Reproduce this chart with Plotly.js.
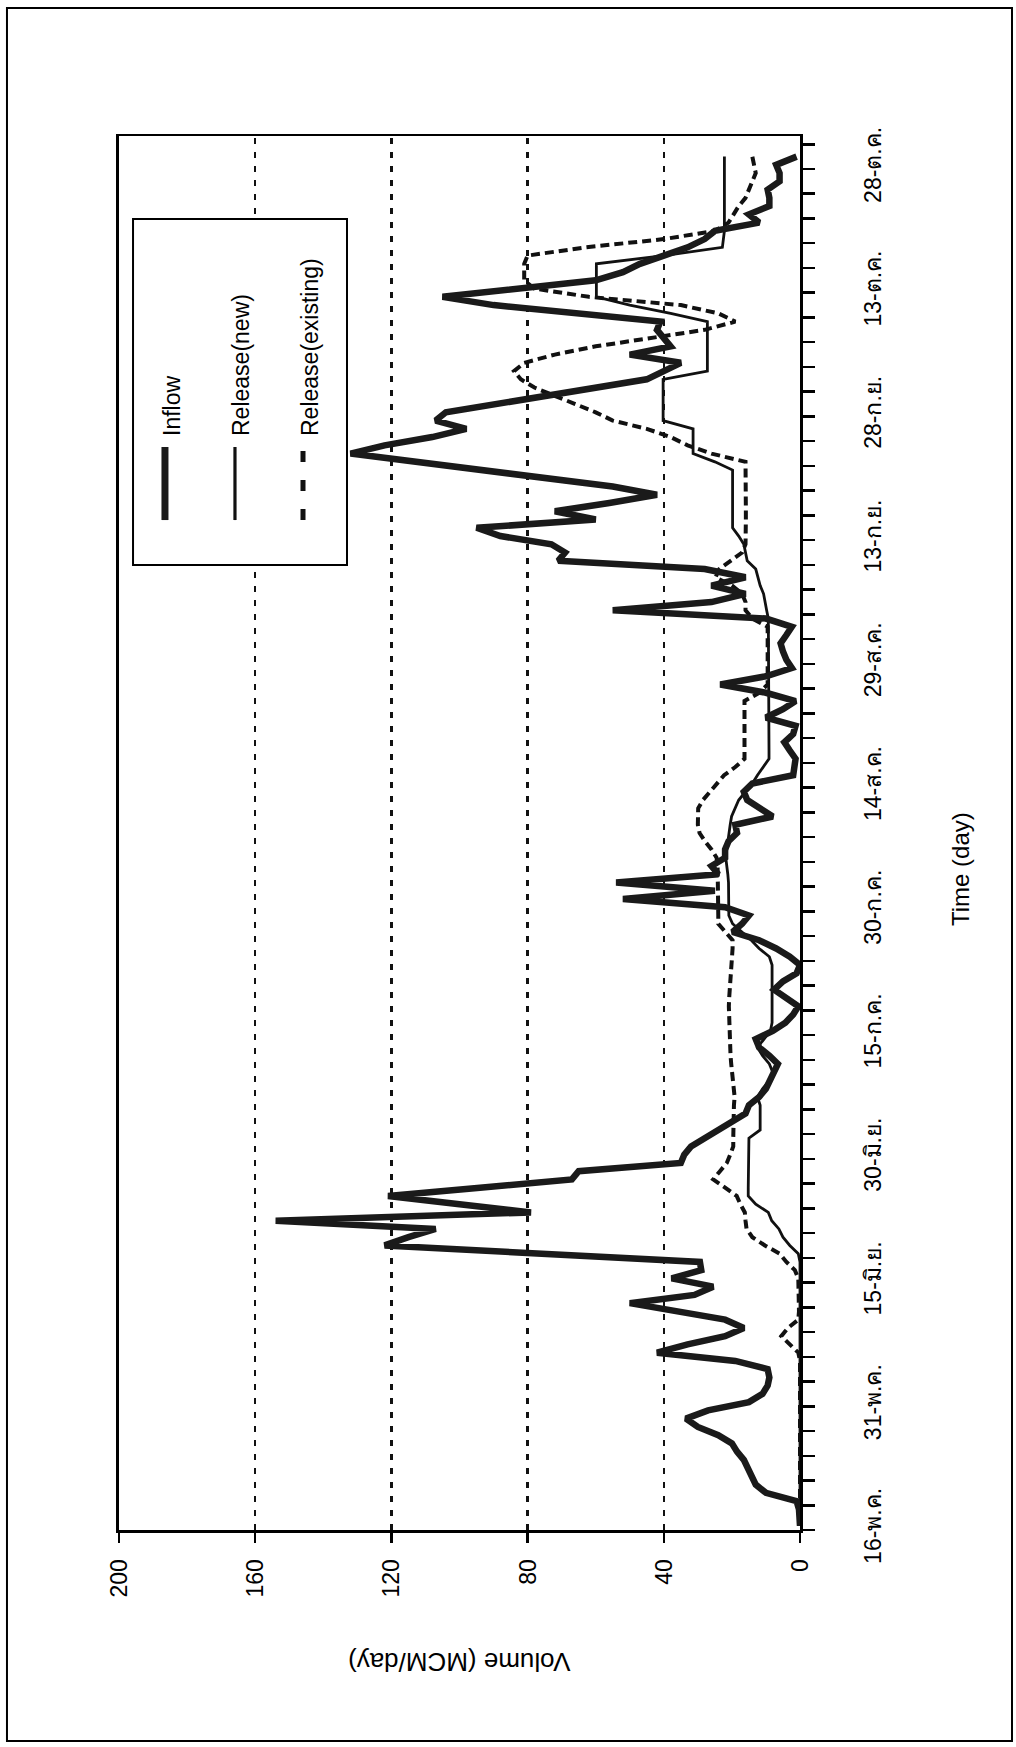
<!DOCTYPE html>
<html><head><meta charset="utf-8">
<script src="https://cdn.plot.ly/plotly-3.0.1.min.js"></script>
<style>
html,body{margin:0;padding:0;width:1016px;height:1747px;overflow:hidden;background:#fff;}
#chart{position:absolute;left:0;top:0;width:1747px;height:1016px;transform-origin:0 0;transform:translateY(1747px) rotate(-90deg);}
</style></head><body><div id="chart"></div>
<script>
// day index 0 = 16 May
const days = [
0,1,2,3,4,5,6,7,8,9,10,11,12,13,14,15,16,17,18,19,20,21,22,23,24,25,26,27,28,29,
30,31,32,33,34,35,36,37,38,39,40,41,42,43,44,45,46,47,48,49,50,51,52,53,54,55,56,57,58,59,
60,61,62,63,64,65,66,67,68,69,70,71,72,73,74,75,76,77,78,79,80,81,82,83,84,85,86,87,88,89,
90,91,92,93,94,95,96,97,98,99,100,101,102,103,104,105,106,107,108,109,110,111,112,113,114,115,116,117,118,119,
120,121,122,123,124,125,126,127,128,129,130,131,132,133,134,135,136,137,138,139,140,141,142,143,144,145,146,147,148,149,
150,151,152,153,154,155,156,157,158,159,160,161,162,163,164,165,166];

const inflow = [
0,0,0.3,1,10,13,14,15,16.5,18.5,
20,24,30,33.5,27,15,11,9.5,9,9.5,
19,42,33,22,16.5,22,35,50,31,25.5,
37.7,29,29.4,76,122,115,107,154,79,100,
121,94,67,65,35,34,32,28,24,20,
16,15,12,10,9,7.5,6.5,9,12,13,
8,4.3,2,0.5,4,7.6,5,1,0,3,
7,12,19.8,17,15,22,52,25,54,24,
26,22,22,21,18.5,19,8,12,15.5,16.5,
14,2,1.5,1.3,3,4.6,2,1.3,10,5,
1.3,10,23.4,10,2.4,4,5,5.7,4,2.4,
10,55,26,16,26,16,28,71,69,73,
88,95,60,72,56,42,55,74,93,112,
132,122,108,98,107,104,89,74,59,45,
40,35,50,38,40,42,41,68,90,105,
82,60,52,47,40,33,28,25,12,15,
9,9,9.5,6,6,7,1];

const releaseNew = [
0,0,0,0,0,0,0,0,0,0,
0,0,0,0,0,0,0,0,0,0,
0,0,0,0,0,0,0,0,0,0,
0,0,0,0.5,3,5,6.2,8.3,9.3,13,
15.2,15.2,15.2,15.2,15.2,15.2,15.2,15,11.7,11.7,
11.7,11.7,12.5,11,9,8,9,11,12.5,10.5,
8.7,8.2,8.2,8.2,8.2,8.2,8.2,8.2,8.2,9,
12,14.3,17,19.8,20.9,20.9,20.9,20.9,21,21.2,
21.5,21.8,21.5,21.2,21,20.5,20.1,19,18,16,
14,12.5,10.7,9.1,9.1,9.1,9.1,9.1,9.1,9.1,
9.1,9.1,9.1,9.1,9.1,9.1,9.1,9.1,9.1,9.1,
9.3,9.8,10.2,10.7,11.7,12.3,13,15.5,16,16.5,
18,19.8,19.8,19.8,19.8,19.8,19.8,19.8,19.8,25,
31.4,31.4,31.4,31.4,40.2,40.2,40.2,40.2,40.2,40.2,
27.2,27.2,27.2,27.2,27.2,27.2,27.2,38,50,59.8,
59.8,59.8,59.8,59.8,40,22.8,22.5,22.2,22.2,22.2,
22.2,22.2,22.2,22.2,22.2,22.2,22.2];

const releaseExisting = [
0,0,0,0,0,0,0,0,0,0,
0,0,0,0,0,0,0,0,0,0,
0,0.5,3,5.5,3.5,0.5,0.3,0.3,0.3,0.3,
0.5,1.5,4,6,10.3,14,15.7,16,16.2,17.5,
18.6,22,25.5,23.5,21.5,20.5,19.6,19.6,19.6,19.6,
19.6,19.4,19.2,19.5,19.8,20,20.2,20.4,20.5,20.6,
20.8,20.9,20.9,20.9,20.8,20.6,20.4,20.2,20,19.9,
19.8,19.8,22,24,24,24,24,24,24,24,
24.2,24.5,26,27.9,29.5,30,30,29.9,28.5,26.5,
24.5,22.3,19,16.3,16.3,16.3,16.3,16.3,16.3,16.3,
16.3,12,9.5,9.5,9.5,9.5,9.5,9.5,9.5,9.5,
14,16,16,17,20,24.8,23.7,20.3,17,16,
15.9,15.9,15.9,15.9,15.9,15.9,15.9,15.9,15.9,16,
26,33,38,45,55,60,66,72,78,82,
84,81,72,60,43,28,19,24,35,62,
78,81,81,81,80,63,40,25,21,19.5,
18,16,15,14,13,13.5,14];

const tickDays = [0,15,30,45,60,75,90,105,120,135,150,165];
const tickLabels = ['16-พ.ค.','31-พ.ค.','15-มิ.ย.','30-มิ.ย.','15-ก.ค.','30-ก.ค.','14-ส.ค.','29-ส.ค.','13-ก.ย.','28-ก.ย.','13-ต.ค.','28-ต.ค.'];
const seriesNames = ['Inflow','Release(new)','Release(existing)'];
const xTitle = 'Time (day)';
const yTitle = 'Volume (MCM/day)';

const FONT = 'Liberation Sans, Arial, Helvetica, sans-serif';
const dashStyle = '9px,5px';

const traces = [
  {x: days, y: releaseExisting, name: seriesNames[2], type: 'scatter', mode: 'lines',
   line: {color: '#111', width: 4, dash: dashStyle}, showlegend: false},
  {x: days, y: releaseNew, name: seriesNames[1], type: 'scatter', mode: 'lines',
   line: {color: '#111', width: 2.8}, showlegend: false},
  {x: days, y: inflow, name: seriesNames[0], type: 'scatter', mode: 'lines',
   line: {color: '#1a1a1a', width: 6.5}, showlegend: false}
];

// legend geometry (paper coords)
const lgX0 = 0.6923, lgX1 = 0.9405, lgY0 = 0.6652, lgY1 = 0.9794;
const symX0 = 0.7245, symX1 = 0.7769, txtX = 0.7834;
const rowsSym = [0.9325, 0.8297, 0.7298];
const rowsTxt = [0.9222, 0.8209, 0.7195];

const shapes = [
  {type: 'rect', xref: 'paper', yref: 'paper', x0: -0.1514, x1: 1.0918, y0: -0.3113, y1: 1.1645,
   line: {color: '#000', width: 2}, layer: 'below'},
  {type: 'rect', xref: 'paper', yref: 'paper', x0: lgX0, x1: lgX1, y0: lgY0, y1: lgY1,
   line: {color: '#000', width: 2}, fillcolor: '#fff', layer: 'above'},
  {type: 'line', xref: 'paper', yref: 'paper', x0: symX0, x1: symX1, y0: rowsSym[0], y1: rowsSym[0],
   line: {color: '#1a1a1a', width: 7}, layer: 'above'},
  {type: 'line', xref: 'paper', yref: 'paper', x0: symX0, x1: symX1, y0: rowsSym[1], y1: rowsSym[1],
   line: {color: '#111', width: 3.2}, layer: 'above'},
  {type: 'line', xref: 'paper', yref: 'paper', x0: symX0, x1: symX1, y0: rowsSym[2], y1: rowsSym[2],
   line: {color: '#111', width: 5, dash: '11px,18px'}, layer: 'above'}
];

const annotations = [
  {xref: 'paper', yref: 'paper', x: txtX, y: rowsTxt[0], text: seriesNames[0], showarrow: false,
   xanchor: 'left', yanchor: 'middle', font: {family: FONT, size: 23, color: '#000'}},
  {xref: 'paper', yref: 'paper', x: txtX, y: rowsTxt[1], text: seriesNames[1], showarrow: false,
   xanchor: 'left', yanchor: 'middle', font: {family: FONT, size: 23, color: '#000'}},
  {xref: 'paper', yref: 'paper', x: txtX, y: rowsTxt[2], text: seriesNames[2], showarrow: false,
   xanchor: 'left', yanchor: 'middle', font: {family: FONT, size: 23, color: '#000'}},
  {xref: 'paper', yref: 'paper', x: 0.4742, y: -0.235, text: xTitle, showarrow: false,
   xanchor: 'center', yanchor: 'middle', font: {family: FONT, size: 24, color: '#000'}},
  {xref: 'paper', yref: 'paper', x: -0.0954, y: 0.5, text: yTitle, showarrow: false, textangle: -90,
   xanchor: 'center', yanchor: 'middle', font: {family: FONT, size: 26, color: '#000'}}
];

const layout = {
  width: 1747, height: 1016,
  margin: {l: 217, r: 136, t: 119, b: 216, pad: 0},
  paper_bgcolor: '#fff', plot_bgcolor: '#fff',
  font: {family: FONT, color: '#000'},
  showlegend: false,
  xaxis: {
    range: [-0.5, 168.5], tickmode: 'array', tickvals: tickDays, ticktext: tickLabels,
    ticks: 'outside', ticklen: 50, tickcolor: 'rgba(0,0,0,0)',
    tickfont: {family: FONT, size: 23, color: '#000'},
    showline: true, linecolor: '#000', linewidth: 3, mirror: true,
    showgrid: false, zeroline: false, fixedrange: true,
    minor: {ticks: 'outside', ticklen: 12, tickwidth: 2.5, tickcolor: '#000',
            tickmode: 'linear', tick0: -0.5, dtick: 3, showgrid: false}
  },
  yaxis: {
    range: [0, 200], tickmode: 'linear', tick0: 0, dtick: 40,
    ticks: 'outside', ticklen: 10, tickwidth: 2.5, tickcolor: '#000',
    ticklabelstandoff: 12,
    tickfont: {family: FONT, size: 23, color: '#000'},
    showline: true, linecolor: '#000', linewidth: 2.5, mirror: true,
    showgrid: true, gridcolor: '#111', gridwidth: 2.5, griddash: '6px,8px',
    zeroline: false, fixedrange: true
  },
  shapes: shapes,
  annotations: annotations
};

Plotly.newPlot('chart', traces, layout, {staticPlot: true, responsive: false, displayModeBar: false});
</script></body></html>
